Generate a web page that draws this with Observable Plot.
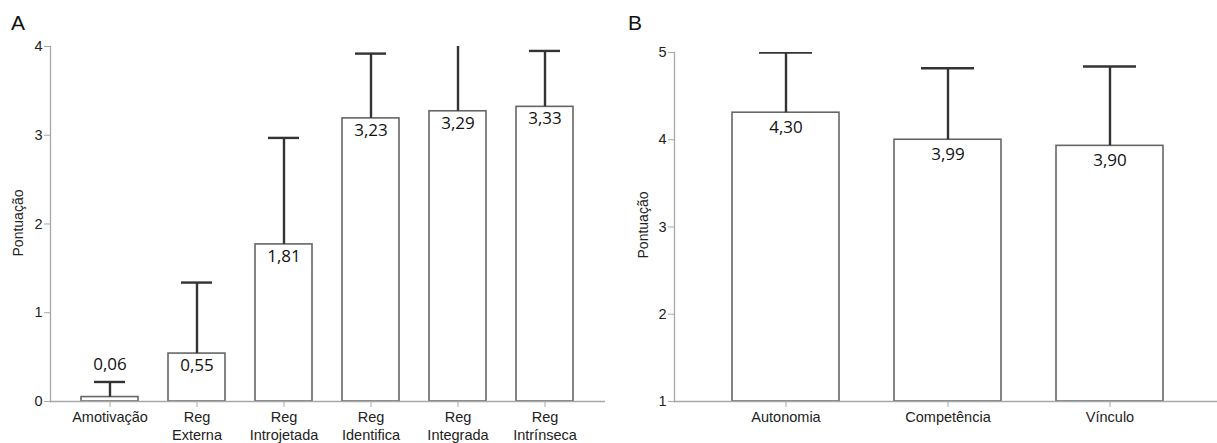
<!DOCTYPE html>
<html>
<head>
<meta charset="utf-8">
<script src="https://cdn.jsdelivr.net/npm/d3@7"></script>
<script src="https://cdn.jsdelivr.net/npm/@observablehq/plot@0.6"></script>
<style>
  html, body { margin: 0; padding: 0; background: #fff; }
  #wrap { position: relative; width: 1217px; height: 443px; overflow: hidden; background: #fff; }
  .panel { position: absolute; top: 0; }
  .letter { position: absolute; z-index: 5; font-family: "Liberation Sans", Arial, sans-serif; font-size: 21px; color: #111; }
  .ylab { position: absolute; z-index: 5; font-family: "Liberation Sans", Arial, sans-serif; font-size: 14px; color: #222;
          width: 120px; height: 18px; line-height: 18px; text-align: center; transform: rotate(-90deg); }
</style>
</head>
<body>
<div id="wrap">
  <div id="pa" class="panel" style="left:0px;"></div>
  <div id="pb" class="panel" style="left:600px;"></div>
  <div class="letter" style="left:11px; top:11px;">A</div>
  <div class="letter" style="left:628px; top:11px;">B</div>
  <div class="ylab" style="left:-42px; top:214px;">Pontuação</div>
  <div class="ylab" style="left:583px; top:216px;">Pontuação</div>
</div>
<script>
// Panel A data
const catsA = ["Amotivação", "Reg\nExterna", "Reg\nIntrojetada", "Reg\nIdentifica", "Reg\nIntegrada", "Reg\nIntrínseca"];
const meansA = [0.06, 0.55, 1.81, 3.23, 3.29, 3.33];
const barA = [0.05, 0.54, 1.77, 3.19, 3.27, 3.32];
const upperA = [0.22, 1.34, 2.97, 3.92, 4.05, 3.95];
const ticksA = [0, 1, 2, 3, 4];

// Panel B data
const catsB = ["Autonomia", "Competência", "Vínculo"];
const meansB = [4.30, 3.99, 3.90];
const barB = [4.31, 4.00, 3.93];
const upperB = [5.00, 4.82, 4.84];
const ticksB = [1, 2, 3, 4, 5];

const fmt = v => v.toFixed(2).replace(".", ",");

function panel({cats, means, bars, upper, ticks, yDomain, width, height, marginLeft, marginTop, marginBottom, xRange, capInset, labelDy}) {
  const data = cats.map((c, i) => ({cat: c, mean: means[i], bar: bars[i], up: upper[i]}));
  const inside = data.filter(d => d.bar >= 0.3);
  const above = data.filter(d => d.bar < 0.3);
  const axisColor = "#a8a8a8";
  return Plot.plot({
    width, height,
    marginLeft, marginTop, marginBottom, marginRight: 0,
    style: {fontFamily: "'Liberation Sans', Arial, sans-serif", fontSize: "14px", color: "#222", background: "transparent", overflow: "visible"},
    x: {domain: cats, range: xRange, paddingInner: 0.34, paddingOuter: 0.345, axis: null},
    y: {domain: yDomain, axis: null},
    marks: [
      Plot.rectY(data, {x: "cat", y1: yDomain[0], y2: "bar", fill: "white", stroke: "#666", strokeWidth: 1.6}),
      Plot.ruleX(data, {x: "cat", y1: "bar", y2: "up", stroke: "#333", strokeWidth: 2.4, clip: true}),
      Plot.tickY(data, {x: "cat", y: "up", stroke: "#333", strokeWidth: 2.4, insetLeft: capInset, insetRight: capInset, clip: true}),
      Plot.text(inside, {x: "cat", y: "bar", text: d => fmt(d.mean), dy: labelDy,
        fontFamily: "'Open Sans', sans-serif", fontSize: 17, fill: "#111"}),
      Plot.text(above, {x: "cat", y: "up", text: d => fmt(d.mean), dy: -17,
        fontFamily: "'Open Sans', sans-serif", fontSize: 17, fill: "#111"}),
      Plot.ruleY([yDomain[0]], {stroke: axisColor, strokeWidth: 1.3}),
      Plot.frame({anchor: "left", stroke: axisColor, strokeWidth: 1.3}),
      Plot.axisY(ticks, {tickSize: 6, tickPadding: 2, tickFormat: d => String(d), stroke: axisColor, fill: "#222", fontSize: 14.5, label: null}),
      Plot.axisX(cats, {tickSize: 6, tickPadding: 2, stroke: axisColor, fill: "#222", fontSize: 14.5, lineHeight: 1.25, label: null})
    ]
  });
}

document.getElementById("pa").appendChild(panel({
  cats: catsA, means: meansA, bars: barA, upper: upperA, ticks: ticksA, yDomain: [0, 4],
  width: 605, height: 443, marginLeft: 50, marginTop: 46, marginBottom: 42, xRange: [50, 604], capInset: 13, labelDy: 12
}));
document.getElementById("pb").appendChild(panel({
  cats: catsB, means: meansB, bars: barB, upper: upperB, ticks: ticksB, yDomain: [1, 5],
  width: 617, height: 443, marginLeft: 74, marginTop: 52, marginBottom: 42, xRange: [74, 620], capInset: 27, labelDy: 15
}));
</script>
</body>
</html>
